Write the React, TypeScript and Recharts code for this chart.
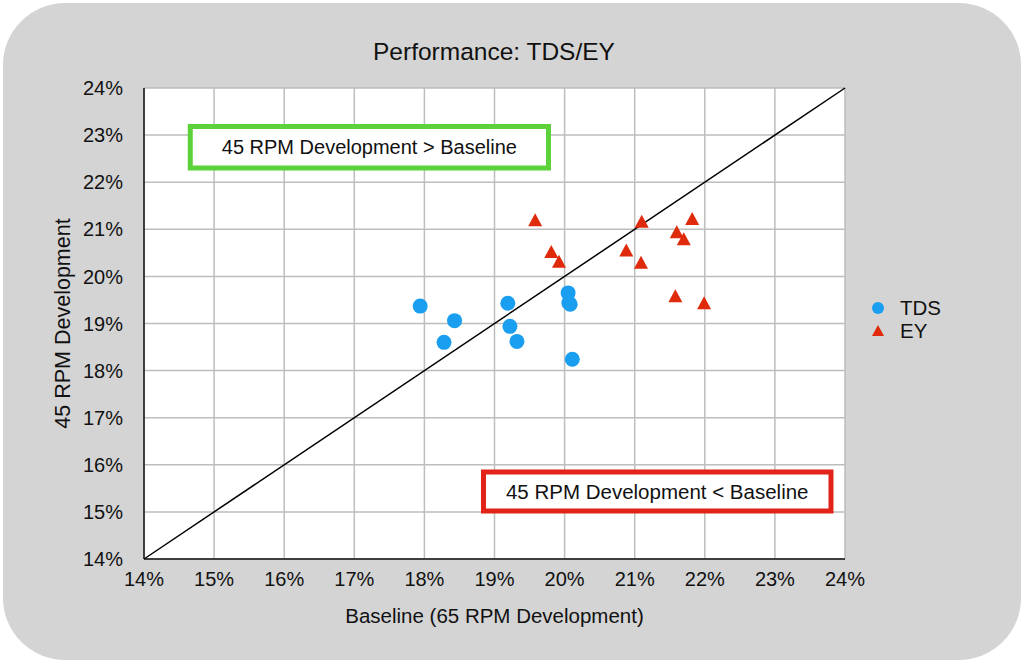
import {
  ScatterChart,
  Scatter,
  XAxis,
  YAxis,
  CartesianGrid,
  ReferenceLine,
  ReferenceArea,
} from "recharts";

const TICKS = [14, 15, 16, 17, 18, 19, 20, 21, 22, 23, 24];

// Baseline (65 RPM) vs 45 RPM development, in percent.
const TDS_X = [17.94, 18.43, 18.28, 19.19, 19.22, 19.32, 20.05, 20.06, 20.08, 20.11];
const TDS_Y = [19.37, 19.06, 18.6, 19.43, 18.94, 18.62, 19.65, 19.44, 19.41, 18.24];

const EY_X = [19.58, 19.81, 19.92, 21.1, 20.88, 21.09, 21.6, 21.7, 21.82, 21.58, 21.99];
const EY_Y = [21.19, 20.52, 20.31, 21.16, 20.55, 20.29, 20.94, 20.79, 21.22, 19.58, 19.43];

const BLUE = "#1a9ff0";
const RED = "#df2a0b";
const FONT = "'Liberation Sans', Arial, sans-serif";

const tds = TDS_X.map((x, i) => ({ x, y: TDS_Y[i] }));
const ey = EY_X.map((x, i) => ({ x, y: EY_Y[i] }));

function Dot(props: any) {
  const { cx, cy } = props;
  return <circle cx={cx} cy={cy} r={7.5} fill={BLUE} />;
}

function Tri(props: any) {
  const { cx, cy } = props;
  const h = 12;
  const w = 7;
  return (
    <polygon
      points={`${cx},${cy - h / 2 - 1} ${cx - w},${cy + h / 2} ${cx + w},${cy + h / 2}`}
      fill={RED}
    />
  );
}

function LegendBox() {
  return (
    <div style={{ fontFamily: FONT, fontSize: 20.5, color: "#111", lineHeight: "23px" }}>
      <div style={{ display: "flex", alignItems: "center" }}>
        <svg width={22} height={23}>
          <circle cx={8} cy={12} r={6} fill={BLUE} />
        </svg>
        <span style={{ marginLeft: 8 }}>TDS</span>
      </div>
      <div style={{ display: "flex", alignItems: "center" }}>
        <svg width={22} height={23}>
          <polygon points="8,6 2,17 14,17" fill={RED} />
        </svg>
        <span style={{ marginLeft: 8 }}>EY</span>
      </div>
    </div>
  );
}

const pct = (v: number) => `${v}%`;

export default function App() {
  return (
    <div
      style={{
        position: "absolute",
        left: 0,
        top: 0,
        width: 1024,
        height: 663,
        background: "#fff",
      }}
    >
      <div
        style={{
          position: "absolute",
          left: 3,
          top: 3,
          width: 1018,
          height: 657,
          background: "#d4d4d4",
          borderRadius: 62,
        }}
      />
      <div
        style={{
          position: "absolute",
          left: 0,
          top: 37,
          width: 988,
          textAlign: "center",
          fontFamily: FONT,
          fontSize: 24.5,
          lineHeight: "30px",
          color: "#111",
        }}
      >
        Performance: TDS/EY
      </div>
      <div style={{ position: "absolute", left: 0, top: 0 }}>
        <ScatterChart
          width={1024}
          height={663}
          margin={{ top: 88, right: 179, bottom: 40, left: 40 }}
        >
          <CartesianGrid stroke="#bdbdbd" strokeWidth={1.5} fill="#fff" />
          <XAxis
            type="number"
            dataKey="x"
            domain={[14, 24]}
            ticks={TICKS}
            tickFormatter={pct}
            interval={0}
            allowDataOverflow
            stroke="#111"
            strokeWidth={1.5}
            tickLine={false}
            tickSize={0}
            tickMargin={13}
            height={64}
            tick={{ fill: "#111", fontSize: 20, fontFamily: FONT }}
            label={{
              value: "Baseline (65 RPM Development)",
              position: "insideBottom",
              offset: 0,
              style: { fill: "#111", fontSize: 20.5, fontFamily: FONT },
            }}
          />
          <YAxis
            type="number"
            dataKey="y"
            domain={[14, 24]}
            ticks={TICKS}
            tickFormatter={pct}
            interval={0}
            allowDataOverflow
            stroke="#111"
            strokeWidth={1.5}
            tickLine={false}
            tickSize={0}
            tickMargin={21}
            width={104}
            tick={{ fill: "#111", fontSize: 20, fontFamily: FONT }}
            label={{
              value: "45 RPM Development",
              angle: -90,
              position: "insideLeft",
              offset: 22,
              style: { fill: "#111", fontSize: 21.5, fontFamily: FONT, textAnchor: "middle" },
            }}
          />
          <ReferenceLine
            segment={[
              { x: 14, y: 14 },
              { x: 24, y: 24 },
            ]}
            stroke="#000"
            strokeWidth={1.5}
          />
          <ReferenceArea
            x1={14.66}
            x2={19.77}
            y1={22.3}
            y2={23.18}
            fill="#fff"
            fillOpacity={1}
            stroke="#5cd23a"
            strokeWidth={5}
            label={{
              value: "45 RPM Development > Baseline",
              position: "center",
              style: { fill: "#111", fontSize: 20, fontFamily: FONT },
            }}
          />
          <ReferenceArea
            x1={14.0 + (484 - 145) / 70}
            x2={14.0 + (831 - 145) / 70}
            y1={24 - (511 - 88) / 47.1}
            y2={24 - (472 - 88) / 47.1}
            fill="#fff"
            fillOpacity={1}
            stroke="#e2231a"
            strokeWidth={5}
            label={{
              value: "45 RPM Development < Baseline",
              position: "center",
              style: { fill: "#111", fontSize: 20.5, fontFamily: FONT },
            }}
          />
          <Scatter name="TDS" data={tds} fill={BLUE} shape={<Dot />} isAnimationActive={false} />
          <Scatter name="EY" data={ey} fill={RED} shape={<Tri />} isAnimationActive={false} />
        </ScatterChart>
      </div>
      <div style={{ position: "absolute", left: 870, top: 296 }}>
        <LegendBox />
      </div>
    </div>
  );
}
